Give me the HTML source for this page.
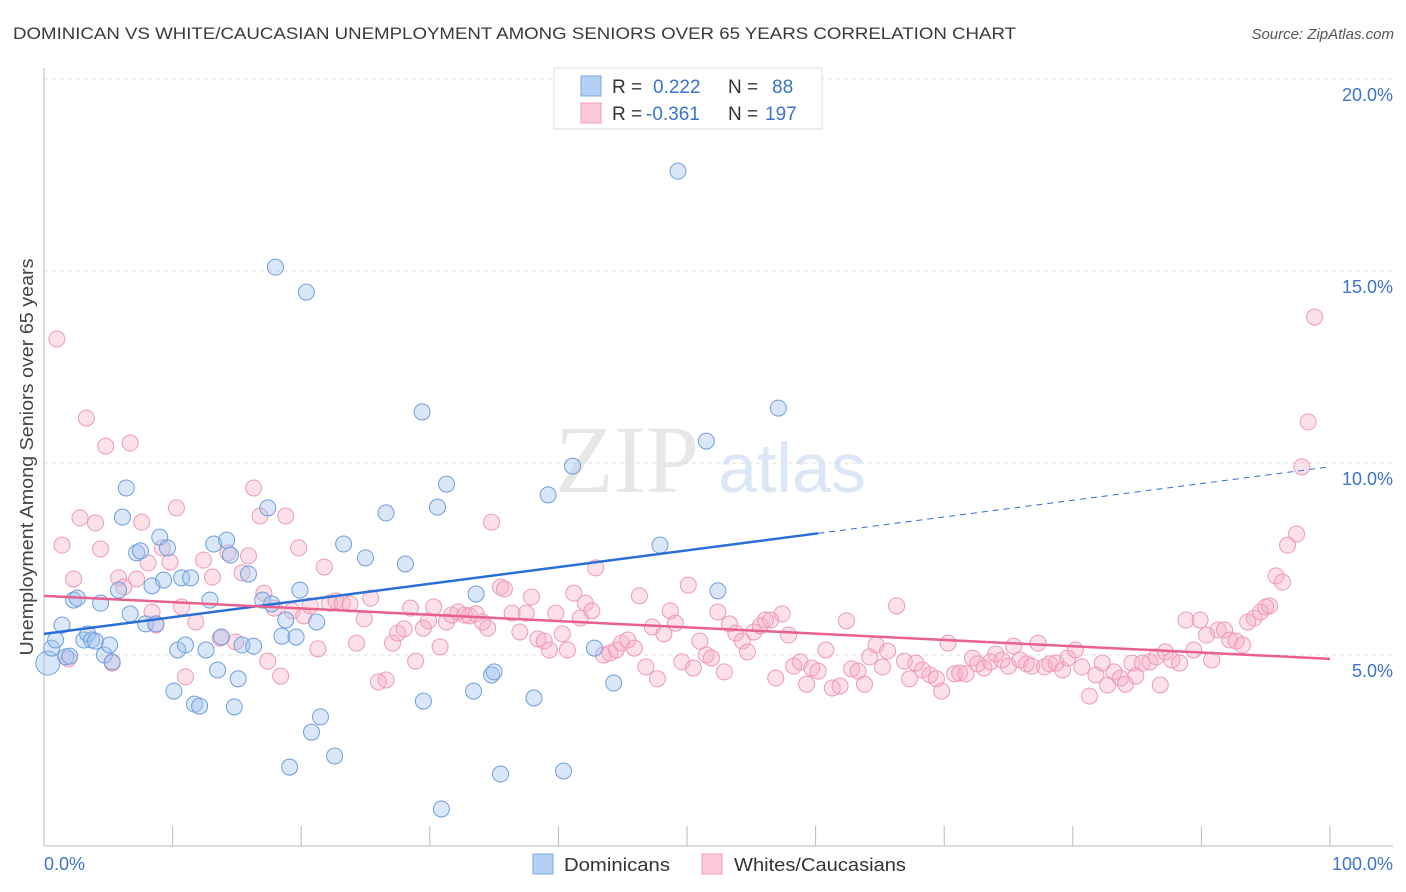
<!DOCTYPE html>
<html><head><meta charset="utf-8"><style>
body{margin:0;background:#fff;font-family:"Liberation Sans",sans-serif;}
svg{display:block}
</style></head><body>
<svg id="chart" width="1406" height="892" xmlns="http://www.w3.org/2000/svg">
<text x="13" y="39" font-size="17" fill="#3a3a3a" textLength="1003" lengthAdjust="spacingAndGlyphs">DOMINICAN VS WHITE/CAUCASIAN UNEMPLOYMENT AMONG SENIORS OVER 65 YEARS CORRELATION CHART</text>
<text x="1394" y="39" font-size="15" fill="#555" font-style="italic" text-anchor="end">Source: ZipAtlas.com</text>
<g>
<text x="555" y="492" font-size="96" fill="#d8d8d8" font-family="Liberation Serif,serif" opacity="0.6">ZIP</text>
<text x="718" y="492" font-size="70" fill="#b8cfee" opacity="0.5">atlas</text>
</g>
<g id="grid"></g>
<g id="axes"></g>
<g id="marks"></g>
<text transform="translate(33,457) rotate(-90)" font-size="18" fill="#444" text-anchor="middle" textLength="397" lengthAdjust="spacingAndGlyphs">Unemployment Among Seniors over 65 years</text>
<g>
<rect x="554" y="68" width="268" height="61" fill="#fff" stroke="#ddd"/>
<rect x="581" y="76" width="20" height="20" fill="#b4d0f4" stroke="#7aa8e0"/>
<rect x="581" y="103" width="20" height="20" fill="#fbc9d8" stroke="#f09cb6"/>
<text x="612" y="93" font-size="19" fill="#333">R =</text>
<text x="653" y="93" font-size="19" fill="#3a74cc">0.222</text>
<text x="728" y="93" font-size="19" fill="#333">N =</text>
<text x="772" y="93" font-size="19" fill="#3a74cc">88</text>
<text x="612" y="120" font-size="19" fill="#333">R =</text>
<text x="646" y="120" font-size="19" fill="#3a74cc">-0.361</text>
<text x="728" y="120" font-size="19" fill="#333">N =</text>
<text x="765" y="120" font-size="19" fill="#3a74cc">197</text>
</g>
<g>
<rect x="533" y="854" width="20" height="20" fill="#b4d0f4" stroke="#7aa8e0"/>
<text x="564" y="871" font-size="18" fill="#333" textLength="106" lengthAdjust="spacingAndGlyphs">Dominicans</text>
<rect x="702" y="854" width="20" height="20" fill="#fbc9d8" stroke="#f09cb6"/>
<text x="734" y="871" font-size="18" fill="#333" textLength="172" lengthAdjust="spacingAndGlyphs">Whites/Caucasians</text>
</g>
</svg>
<script>
const blueX=[0.3,0.6,0.9,1.4,1.7,2.0,2.3,2.6,3.1,3.4,3.7,4.0,4.4,4.7,5.1,5.3,5.8,6.1,6.4,6.7,7.2,7.5,7.9,8.4,8.7,9.0,9.3,9.6,10.1,10.4,10.7,11.0,11.4,11.7,12.1,12.6,12.9,13.2,13.5,13.8,14.2,14.5,14.8,15.1,15.4,15.9,16.3,17.0,17.4,17.7,18.0,18.5,18.8,19.1,19.6,19.9,20.4,20.8,21.2,21.5,22.6,23.3,25.0,26.6,28.1,29.4,29.5,30.6,30.9,31.3,33.4,33.6,34.8,35.0,35.5,38.1,39.2,40.4,41.1,42.8,44.3,47.9,49.3,51.5,52.4,57.1];
const blueY=[4.79,5.18,5.39,5.78,4.95,4.97,6.43,6.48,5.39,5.55,5.39,5.36,6.35,5.00,5.26,4.82,6.69,8.59,9.35,6.07,7.66,7.71,5.81,6.80,5.81,8.07,6.95,7.79,4.06,5.13,7.01,5.26,7.01,3.72,3.67,5.13,6.43,7.89,4.61,5.47,7.99,7.60,3.65,4.38,5.26,7.11,5.23,6.43,8.83,6.33,15.10,5.49,5.91,2.08,5.47,6.69,14.45,2.99,5.86,3.39,2.37,7.89,7.53,8.70,7.37,11.33,3.80,8.85,0.99,9.45,4.06,6.59,4.48,4.56,1.90,3.88,9.17,1.98,9.92,5.18,4.27,7.86,17.60,10.57,6.67,11.43];
const pinkX=[1.0,1.4,1.9,2.3,2.8,3.3,4.0,4.4,4.8,5.3,5.8,6.2,6.7,7.2,7.6,8.1,8.4,8.7,9.2,9.8,10.3,10.7,11.0,11.8,12.4,13.1,13.7,14.3,14.9,15.4,15.9,16.3,16.8,17.1,17.4,17.9,18.4,18.8,19.3,19.8,20.2,20.7,21.3,21.8,22.2,22.7,23.2,23.8,24.3,24.9,25.4,26.0,26.6,27.1,27.5,28.0,28.5,28.9,29.5,29.9,30.3,30.8,31.3,31.7,32.2,32.7,33.1,33.6,34.1,34.5,34.8,35.5,35.8,36.4,37.0,37.5,37.9,38.4,38.9,39.3,39.8,40.3,40.7,41.2,41.7,42.1,42.6,42.9,43.5,44.0,44.5,44.9,45.4,45.9,46.3,46.8,47.3,47.7,48.2,48.7,49.1,49.6,50.1,50.5,51.0,51.5,51.9,52.4,52.9,53.3,53.8,54.3,54.7,55.2,55.7,56.1,56.5,56.9,57.4,57.9,58.3,58.8,59.3,59.7,60.2,60.8,61.3,61.9,62.4,62.8,63.3,63.8,64.2,64.7,65.2,65.6,66.3,66.9,67.3,67.8,68.3,68.9,69.4,69.8,70.3,70.8,71.2,71.7,72.2,72.6,73.1,73.6,74.0,74.5,75.0,75.4,75.9,76.4,76.8,77.3,77.8,78.2,78.7,79.2,79.6,80.2,80.7,81.3,81.8,82.3,82.7,83.2,83.7,84.1,84.6,84.9,85.4,86.0,86.5,86.8,87.2,87.7,88.3,88.8,89.4,89.9,90.4,90.8,91.3,91.8,92.2,92.7,93.2,93.6,94.1,94.6,95.0,95.3,95.8,96.3,96.7,97.4,97.8,98.3,98.8];
const pinkY=[13.23,7.86,4.90,6.98,8.57,11.17,8.44,7.76,10.44,4.79,7.01,6.77,10.52,6.98,8.46,7.40,6.12,5.78,7.79,7.42,8.83,6.25,4.43,5.86,7.47,7.03,5.44,7.66,5.34,7.14,7.58,9.35,8.62,6.61,4.84,6.22,4.45,8.62,6.15,7.79,6.02,6.28,5.16,7.29,6.35,6.41,6.35,6.33,5.31,5.94,6.48,4.30,4.35,5.31,5.57,5.68,6.22,4.84,5.70,5.89,6.25,5.21,5.86,6.04,6.12,6.04,6.02,6.07,5.86,5.70,8.46,6.77,6.72,6.09,5.60,6.09,6.51,5.42,5.36,5.13,6.09,5.55,5.13,6.61,5.96,6.35,6.15,7.27,5.00,5.05,5.13,5.31,5.39,5.18,6.54,4.69,5.73,4.38,5.55,6.15,5.83,4.82,6.82,4.66,5.36,5.00,4.92,6.12,4.56,5.81,5.57,5.36,5.08,5.60,5.76,5.91,5.91,4.40,6.07,5.52,4.71,4.82,4.24,4.66,4.58,5.13,4.14,4.19,5.89,4.64,4.58,4.24,4.95,5.26,4.69,5.10,6.28,4.84,4.38,4.79,4.61,4.48,4.38,4.06,5.31,4.51,4.53,4.51,4.92,4.77,4.66,4.82,5.03,4.87,4.71,5.23,4.87,4.77,4.71,5.31,4.69,4.77,4.79,4.61,4.92,5.13,4.69,3.93,4.48,4.79,4.22,4.56,4.40,4.24,4.79,4.45,4.79,4.82,4.95,4.22,5.08,4.87,4.79,5.91,5.13,5.91,5.52,4.87,5.65,5.65,5.39,5.36,5.26,5.86,5.96,6.12,6.25,6.28,7.06,6.90,7.86,8.15,9.90,11.07,13.80];
const yTicks=[5,10,15,20];
const yTickLabels=["5.0%","10.0%","15.0%","20.0%"];
const xTicks=[0,10,20,30,40,50,60,70,80,90,100];
const blueTrend=[5.55,9.90];
const blueSolidEnd=60.2;
const pinkTrend=[6.54,4.90];

const NS="http://www.w3.org/2000/svg";
const X0=44,X1=1330,Y0=847,PX=38.4;
const sx=v=>X0+(X1-X0)*v/100;
const sy=v=>Y0-v*PX;
function mk(tag,attrs,parent){const e=document.createElementNS(NS,tag);for(const k in attrs)e.setAttribute(k,attrs[k]);parent.appendChild(e);return e;}
const grid=document.getElementById('grid'),axes=document.getElementById('axes'),marks=document.getElementById('marks');
yTicks.forEach((t,i)=>{
  const l=mk('line',{x1:X0,x2:1393,y1:sy(t),y2:sy(t),stroke:'#ddd','stroke-dasharray':'4,4'},grid);
  
  
  const tx=mk('text',{x:1393,y:sy(t)+22,'font-size':18,fill:'#3a74cc','text-anchor':'end'},axes);
  tx.textContent=yTickLabels[i];
  
  
});
const topL=mk('line',{x1:X0,x2:1393,y1:79,y2:79,stroke:'#ddd','stroke-dasharray':'4,4'},grid);


const ya=mk('line',{x1:X0,x2:X0,y1:68,y2:846,stroke:'#bbb'},axes);


const xa=mk('line',{x1:X0,x2:1393,y1:846,y2:846,stroke:'#bbb'},axes);


xTicks.forEach(t=>{
  const l=mk('line',{x1:sx(t),x2:sx(t),y1:826,y2:846,stroke:'#bbb'},axes);
  
  
});
const xl0=mk('text',{x:44,y:870,'font-size':18,fill:'#3a74cc'},axes);xl0.textContent='0.0%';


const xl1=mk('text',{x:1393,y:870,'font-size':18,fill:'#3a74cc','text-anchor':'end'},axes);xl1.textContent='100.0%';



pinkX.forEach((x,i)=>{
  const c=mk('circle',{cx:sx(x),cy:sy(pinkY[i]),r:8,fill:'rgba(246,170,195,0.35)',stroke:'#ef9ab5','stroke-width':1},marks);
  
  
});
blueX.forEach((x,i)=>{
  const c=mk('circle',{cx:sx(x),cy:sy(blueY[i]),r:i===0?12:8,fill:'rgba(160,196,240,0.4)',stroke:'#6e9fdc','stroke-width':1},marks);
  
  
});
const bAt=v=>blueTrend[0]+(blueTrend[1]-blueTrend[0])*v/100;
const bl=mk('line',{x1:sx(0),y1:sy(bAt(0)),x2:sx(blueSolidEnd),y2:sy(bAt(blueSolidEnd)),stroke:'#2a6fd6','stroke-width':2.5},marks);


const bd=mk('line',{x1:sx(blueSolidEnd),y1:sy(bAt(blueSolidEnd)),x2:sx(100),y2:sy(bAt(100)),stroke:'#2a6fd6','stroke-width':1,'stroke-dasharray':'6,5'},marks);


const pl=mk('line',{x1:sx(0),y1:sy(pinkTrend[0]),x2:sx(100),y2:sy(pinkTrend[1]),stroke:'#e8608c','stroke-width':2.5},marks);


</script>
</body></html>
